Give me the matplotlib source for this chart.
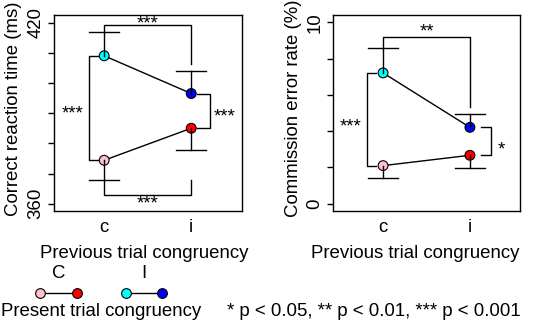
import matplotlib
matplotlib.use("Agg")
import matplotlib.pyplot as plt
from matplotlib.lines import Line2D

plt.rcParams["font.family"] = ["Liberation Sans", "DejaVu Sans"]

prev_labels = ["c", "i"]
# correct reaction time (ms): present congruent (C) / incongruent (I)
rt_C = [374.4, 385.0]
rt_C_se = [6.7, 7.2]
rt_I = [409.0, 396.5]
rt_I_se = [7.8, 7.5]
# commission error rate (%)
er_C = [2.10, 2.67]
er_C_se = [0.70, 0.72]
er_I = [7.21, 4.21]
er_I_se = [1.38, 0.74]

col_C = ["pink", "red"]
col_I = ["cyan", "blue"]

FS = 13.4
X = [1, 2]
CAP = 0.17


def errbar(ax, x, y, se, up):
    end = y + se if up else y - se
    ax.plot([x, x], [y, end], color="black", lw=1.0, zorder=4)
    ax.plot([x - CAP, x + CAP], [end, end], color="black", lw=1.0, zorder=4)


def panel(ax, C, Cse, I, Ise, ylim, yticks, ylabel, xlab_x, ylab_x):
    ax.plot(X, C, color="black", lw=1.0, zorder=2)
    ax.plot(X, I, color="black", lw=1.0, zorder=2)
    ax.scatter(X, C, c=col_C, edgecolors="black", s=50, linewidths=0.8, zorder=3)
    ax.scatter(X, I, c=col_I, edgecolors="black", s=50, linewidths=0.8, zorder=3)
    for k in range(2):
        errbar(ax, X[k], C[k], Cse[k], up=False)
        errbar(ax, X[k], I[k], Ise[k], up=True)
    ax.set_xlim(0.42, 2.58)
    ax.set_ylim(*ylim)
    ax.set_xticks(X, prev_labels)
    ax.set_yticks(yticks, [str(yticks[0])] + [""] * (len(yticks) - 2) + [str(yticks[-1])])
    for t in ax.get_yticklabels():
        t.set_rotation(90)
        t.set_va("center")
    ax.tick_params(axis="y", length=4.5, width=1.0, labelsize=FS, pad=2)
    ax.tick_params(axis="x", length=0, labelsize=FS, pad=6)
    for s in ax.spines.values():
        s.set_linewidth(1.0)
    ax.set_ylabel(ylabel, fontsize=FS)
    ax.yaxis.set_label_coords(ylab_x, 0.524)
    ax.set_xlabel("Previous trial congruency", fontsize=FS)
    ax.xaxis.set_label_coords(xlab_x, -0.172)


def bracket_v(ax, x, y0, y1, x_in, label, tx, ty):
    ax.plot([x_in, x, x, x_in], [y0, y0, y1, y1], color="black", lw=1.0)
    ax.text(tx, ty, label, ha="center", va="center", fontsize=FS)


fig = plt.figure(figsize=(5.36, 3.32), dpi=100)
ax1 = fig.add_axes([53.7 / 536, 1 - 211 / 332, 188 / 536, 196 / 332])
ax2 = fig.add_axes([332.7 / 536, 1 - 211 / 332, 187.6 / 536, 196 / 332])

# left panel: reaction time
panel(ax1, rt_C, rt_C_se, rt_I, rt_I_se, (357.6, 422.5),
      [360, 370, 380, 390, 400, 410, 420], "Correct reaction time (ms)", 0.48, -0.17)
top = 419.1
ax1.plot([1, 1, 2, 2], [rt_I[0] + rt_I_se[0], top, top, rt_I[1] + rt_I_se[1] + 2.2],
         color="black", lw=1.0)
ax1.text(1.5, top + 0.5, "***", ha="center", va="center", fontsize=FS)
bot = 362.8
ax1.plot([1, 1, 2, 2], [rt_C[0] - rt_C_se[0], bot, bot, rt_C[0] - rt_C_se[0]],
         color="black", lw=1.0)
ax1.text(1.5, bot - 2.8, "***", ha="center", va="center", fontsize=FS)
bracket_v(ax1, 0.83, rt_I[0], rt_C[0], 0.94, "***", 0.64, (rt_I[0] + rt_C[0]) / 2 - 1.9)
bracket_v(ax1, 2.215, rt_I[1], rt_C[1], 2.07, "***", 2.38, (rt_I[1] + rt_C[1]) / 2 - 1.9)

# right panel: commission error rate
panel(ax2, er_C, er_C_se, er_I, er_I_se, (-0.4, 10.4),
      [0, 2, 4, 6, 8, 10], "Commission error rate (%)", 0.441, -0.165)
top = 9.18
ax2.plot([1, 1, 2, 2], [er_I[0] + er_I_se[0], top, top, er_I[1] + er_I_se[1] + 0.36],
         color="black", lw=1.0)
ax2.text(1.5, top + 0.3, "**", ha="center", va="center", fontsize=FS)
bracket_v(ax2, 0.81, er_I[0], er_C[0], 0.92, "***", 0.62, (er_I[0] + er_C[0]) / 2 - 0.42)
bracket_v(ax2, 2.24, er_I[1], er_C[1], 2.13, "*", 2.36, (er_I[1] + er_C[1]) / 2 - 0.46)

# legend (present trial congruency)
def leg_pair(x0, x1, y, colors, label):
    fig.add_artist(Line2D([x0, x1], [y, y], color="black", lw=1.0))
    fig.add_artist(Line2D([x0], [y], marker="o", ms=7, mfc=colors[0], mec="black", mew=0.8, ls=""))
    fig.add_artist(Line2D([x1], [y], marker="o", ms=7, mfc=colors[1], mec="black", mew=0.8, ls=""))
    fig.text((x0 + x1) / 2, 1 - 274 / 332, label, ha="center", va="center", fontsize=FS)


leg_pair(40 / 536, 76.7 / 536, 1 - 293.3 / 332, col_C, "C")
leg_pair(126 / 536, 162 / 536, 1 - 293.3 / 332, col_I, "I")
fig.text(101 / 536, 1 - 312 / 332, "Present trial congruency", ha="center", va="center", fontsize=FS)
fig.text(374 / 536, 1 - 312 / 332, "* p < 0.05, ** p < 0.01, *** p < 0.001",
         ha="center", va="center", fontsize=FS)

fig.savefig("out.png", dpi=100)
